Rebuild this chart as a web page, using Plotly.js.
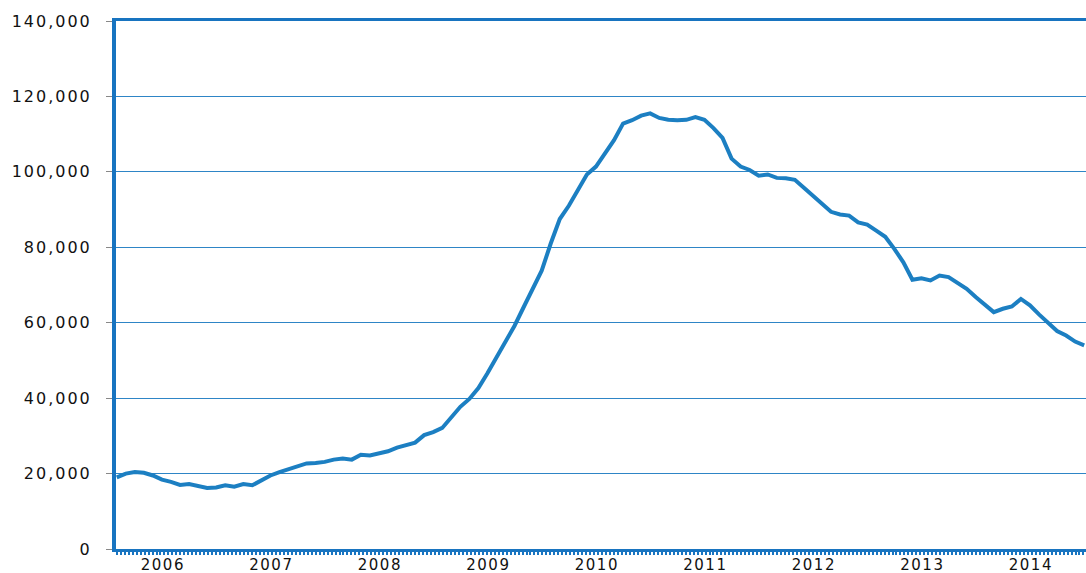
<!DOCTYPE html>
<html><head><meta charset="utf-8">
<script src="https://cdn.plot.ly/plotly-3.0.1.min.js"></script>
<style>
html,body{margin:0;padding:0;background:#fff;}
#chart{width:1086px;height:573px;}
.yaxislayer-above .ytick text{letter-spacing:2px;}
.xaxislayer-above .xtick text{letter-spacing:1.5px;}
</style>
</head><body><div id="chart"></div>
<script>
const years = ['2006','2007','2008','2009','2010','2011','2012','2013','2014'];
const startYear = 2006;
const values = [
  19000, 20000, 20400, 20200, 19500, 18400, 17800, 17000, 17200, 16700, 16200, 16300,
  16900, 16500, 17200, 16900, 18300, 19500, 20400, 21100, 21900, 22700, 22800, 23100,
  23700, 24000, 23700, 25000, 24800, 25300, 25900, 26900, 27500, 28200, 30200, 31000,
  32100, 34900, 37700, 39800, 42700, 46600, 50700, 54800, 59200, 64100, 69000, 73800,
  81000, 87500, 91000, 95000, 99300, 101400, 104800, 108400, 112800, 113700, 114900, 115500,
  114300, 113800, 113700, 113800, 114500, 113800, 111600, 109000, 103500, 101400, 100500, 99000,
  99300, 98400, 98300, 97900, 95800, 93600, 91600, 89400, 88700, 88400, 86600, 86000,
  84400, 82800, 79600, 76000, 71400, 71800, 71200, 72500, 72100, 70700, 69000, 66800,
  64800, 62800, 63700, 64300, 66300, 64600, 62200, 59900, 57800, 56600, 55000, 54000
];
const monthIndex = values.map((_, i) => i);
const monthLabels = values.map((_, i) => `${startYear + Math.floor(i / 12)}-${String(i % 12 + 1).padStart(2, '0')}`);
const yearTickPos = years.map((_, i) => 5.1 + 12 * i);

const lineColor = '#1C7FC2';
const axisColor = '#1874C0';
const gridColor = '#2E85C6';

const trace = {
  x: monthIndex, y: values, customdata: monthLabels,
  type: 'scatter', mode: 'lines',
  line: {color: lineColor, width: 4},
  hovertemplate: '%{customdata}: %{y:,}<extra></extra>'
};

const layout = {
  width: 1086, height: 573,
  margin: {l: 116, r: 0, t: 21, b: 24},
  showlegend: false,
  paper_bgcolor: '#fff', plot_bgcolor: '#fff',
  font: {family: 'DejaVu Sans, Arial, sans-serif', color: '#111'},
  xaxis: {
    range: [-0.08, 107.2], showgrid: false, zeroline: false,
    showline: true, linecolor: axisColor, linewidth: 3, mirror: true,
    tickmode: 'array', tickvals: yearTickPos, ticktext: years,
    ticks: '', tickfont: {size: 15}, ticklabelstandoff: 0,
    minor: {ticks: 'outside', tick0: 0, dtick: 0.44, ticklen: 3, tickwidth: 2, tickcolor: axisColor, showgrid: false}
  },
  yaxis: {
    range: [0, 140000], tick0: 0, dtick: 20000, tickformat: ',',
    showgrid: true, gridcolor: gridColor, gridwidth: 1.3, zeroline: false,
    showline: true, linecolor: axisColor, linewidth: 4,
    ticks: 'outside', ticklen: 6, tickcolor: '#888', tickwidth: 1,
    tickfont: {size: 16}, ticklabelstandoff: 11
  }
};

Plotly.newPlot('chart', [trace], layout, {displayModeBar: false});
</script>
</body></html>
